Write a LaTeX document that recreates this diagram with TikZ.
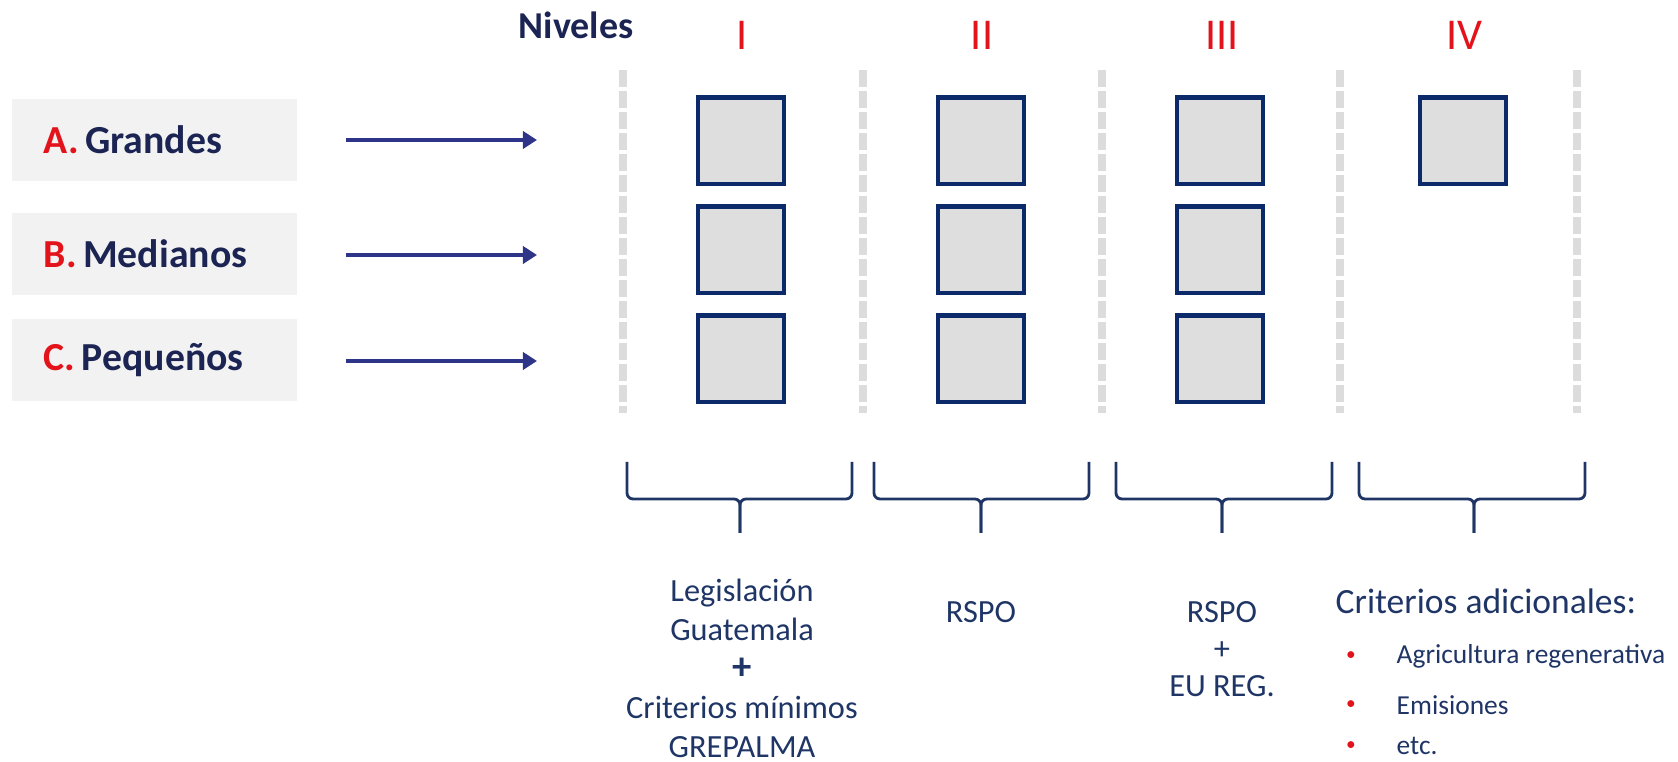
\documentclass[tikz,border=0pt]{standalone}
\usepackage{fontspec}
\setmainfont{Carlito}
\usepackage{tikz}
\usetikzlibrary{arrows.meta,positioning}
\usepackage{xcolor}

\definecolor{navy}{HTML}{1B2452}
\definecolor{lvlred}{HTML}{E3131B}
\definecolor{arrblue}{HTML}{2E3589}
\definecolor{sqnavy}{HTML}{0C2A69}
\definecolor{sqfill}{HTML}{DEDEDE}
\definecolor{lblfill}{HTML}{F2F2F2}
\definecolor{dashgray}{HTML}{DCDCDC}
\definecolor{txtnavy}{HTML}{1F3566}

\tikzset{
  grupo/.style={anchor=west, fill=lblfill, minimum width=2.85cm, minimum height=0.82cm, text width=2.21cm, inner xsep=0.32cm, align=left, font=\fontsize{11.3}{13}\selectfont\bfseries, text=navy},
  flecha/.style={-{Triangle[length=0.14cm,width=0.17cm]}, line width=1.1pt, arrblue},
  nivel/.style={font=\fontsize{12.5}{14}\selectfont, text=lvlred},
  cuadro/.style={draw=sqnavy, line width=1.4pt, fill=sqfill, minimum size=0.86cm, inner sep=0pt},
  separa/.style={dashgray, line width=2pt, dash pattern=on 0.17cm off 0.04cm},
  llave/.style={txtnavy, line width=0.8pt, rounded corners=0.06cm},
  texto/.style={font=\fontsize{9.2}{11.1}\selectfont, text=txtnavy, align=center},
  item/.style={anchor=west, inner sep=0pt, font=\fontsize{7.8}{9}\selectfont, text=txtnavy},
  punto/.style={inner sep=0pt, font=\fontsize{5.5}{7}\selectfont, text=lvlred},
}

\begin{document}
\begin{tikzpicture}[x=0.01cm, y=-0.01cm]
\useasboundingbox (0,0) rectangle (1678,762);

% grupos de productores
\node[grupo] (gA) at (11,140) {\textcolor{lvlred}{A.}\,Grandes};
\node[grupo] (gB) at (11,254) {\textcolor{lvlred}{B.}\,Medianos};
\node[grupo] (gC) at (11,360) {\textcolor{lvlred}{C.}\,Pequeños};
\coordinate (fA1) at (346,140); \coordinate (fA2) at (537,140);
\coordinate (fB1) at (346,255); \coordinate (fB2) at (537,255);
\coordinate (fC1) at (346,361); \coordinate (fC2) at (537,361);
\draw[flecha] (fA1) -- (fA2);
\draw[flecha] (fB1) -- (fB2);
\draw[flecha] (fC1) -- (fC2);

% niveles
\node[font=\fontsize{10.8}{13}\selectfont\bfseries, text=navy] (niveles) at (576,25) {Niveles};
\node[nivel] (n1) at (742,35) {I};
\node[nivel] (n2) at (982,35) {II};
\node[nivel] (n3) at (1222,35) {III};
\node[nivel] (n4) at (1464,35) {IV};

% separadores
\coordinate (s1a) at (623,70); \coordinate (s1b) at (623,413);
\coordinate (s2a) at (863,70); \coordinate (s2b) at (863,413);
\coordinate (s3a) at (1102,70); \coordinate (s3b) at (1102,413);
\coordinate (s4a) at (1340,70); \coordinate (s4b) at (1340,413);
\coordinate (s5a) at (1577,70); \coordinate (s5b) at (1577,413);
\draw[separa] (s1a) -- (s1b);
\draw[separa] (s2a) -- (s2b);
\draw[separa] (s3a) -- (s3b);
\draw[separa] (s4a) -- (s4b);
\draw[separa] (s5a) -- (s5b);

% cuadros
\node[cuadro] (c1A) at (741,141) {}; \node[cuadro] (c2A) at (981,141) {}; \node[cuadro] (c3A) at (1220,141) {}; \node[cuadro] (c4A) at (1463,141) {};
\node[cuadro] (c1B) at (741,250) {}; \node[cuadro] (c2B) at (981,250) {}; \node[cuadro] (c3B) at (1220,250) {};
\node[cuadro] (c1C) at (741,359) {}; \node[cuadro] (c2C) at (981,359) {}; \node[cuadro] (c3C) at (1220,359) {};

% llaves
\draw[llave] (627,462) |- (740,499) -- (740,533);
\draw[llave] (852,462) |- (740,499) -- (740,533);
\draw[llave] (874,462) |- (981,499) -- (981,533);
\draw[llave] (1089,462) |- (981,499) -- (981,533);
\draw[llave] (1116,462) |- (1222,499) -- (1222,533);
\draw[llave] (1332,462) |- (1222,499) -- (1222,533);
\draw[llave] (1359,462) |- (1474,499) -- (1474,533);
\draw[llave] (1585,462) |- (1474,499) -- (1474,533);

% criterios
\node[texto] (t1) at (742,668) {Legislación\\Guatemala\\{\fontsize{11}{11.1}\selectfont\bfseries +}\\Criterios mínimos\\GREPALMA};
\node[texto] (t2) at (981,612) {RSPO};
\node[texto, font=\fontsize{9.2}{10.5}\selectfont] (t3) at (1222,649) {RSPO\\+\\EU REG.};
\node[anchor=west, inner sep=0pt, font=\fontsize{10.1}{12}\selectfont, text=txtnavy] (t4) at (1335,601) {Criterios adicionales:};
\node[punto] (p1) at (1351,656) {•}; \node[item] (i1) at (1396,656) {Agricultura regenerativa};
\node[punto] (p2) at (1351,705) {•}; \node[item] (i2) at (1396,705) {Emisiones};
\node[punto] (p3) at (1351,746) {•}; \node[item] (i3) at (1396,746) {etc.};
\end{tikzpicture}
\end{document}
